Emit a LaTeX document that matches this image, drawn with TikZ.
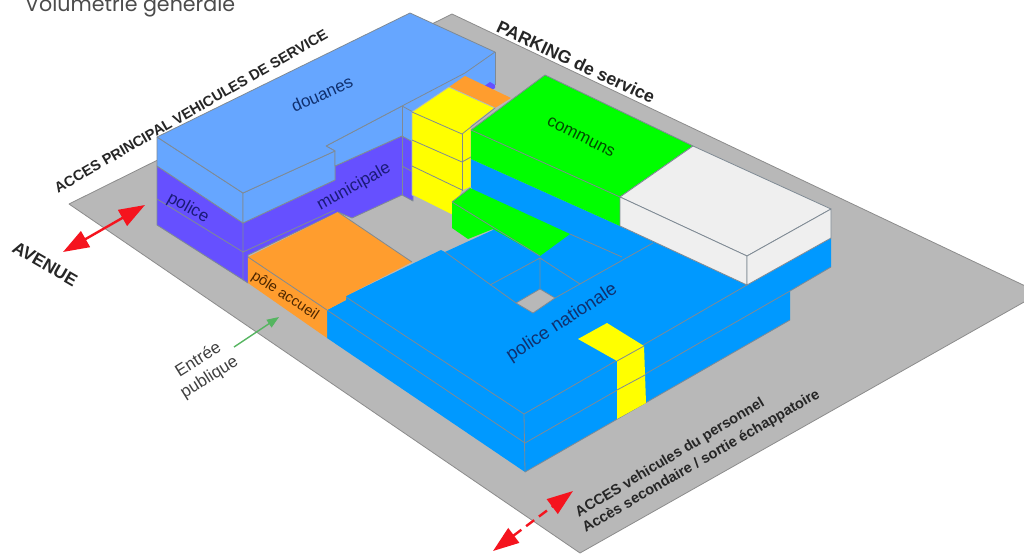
\documentclass[tikz,border=0pt]{standalone}
\usepackage[dvipsnames]{xcolor}
\usepackage{fontspec}
\setmainfont{Liberation Sans}
\newfontfamily\titlefont{Poppins}
\usetikzlibrary{arrows.meta,positioning}
\definecolor{sol}{HTML}{B8B8B8}
\definecolor{arete}{HTML}{7F8A94}
\definecolor{douane}{HTML}{66A6FF}
\definecolor{municipal}{HTML}{6650FF}
\definecolor{national}{HTML}{0099FF}
\definecolor{commun}{HTML}{00FF00}
\definecolor{jaune}{HTML}{FFFF00}
\definecolor{accueil}{HTML}{FF9D2E}
\definecolor{blanc}{HTML}{EFEFEF}
\definecolor{fleche}{HTML}{F5141E}
\definecolor{entree}{HTML}{55B560}
\definecolor{marine}{HTML}{10306E}
\definecolor{violet}{HTML}{1A1A78}
\tikzset{
  face/.style={draw=arete,line width=0.8pt,line join=round},
  pli/.style={arete,line width=0.8pt},
  acces/.style={fleche,line width=2.4pt,{Triangle[length=26pt,width=18pt]}-{Triangle[length=26pt,width=18pt]}},
  grand/.style={font=\bfseries\fontsize{14.6}{17}\selectfont,text=black!85},
  petit/.style={font=\bfseries\fontsize{14.6}{17}\selectfont,text=black!85,anchor=west},
  volume/.style={font=\fontsize{17}{20}\selectfont,inner sep=0pt},
}
\begin{document}
\begin{tikzpicture}[x=1pt,y=-1pt]
    \useasboundingbox (0,0) rectangle (1024,554);
    \fill[white] (0,0) rectangle (1024,554);
    \draw[face,draw=black!45,fill=sol] (69,204)--(452,14)--(1040,293)--(580,553)--cycle;
    % douanes et police municipale
    \fill[douane] (402,106)--(495,52)--(495,85)--(402,140)--cycle;
    \fill[municipal] (465,100)--(490,82)--(495,85)--(495,88)--(470,105)--cycle;
    \draw[face,fill=municipal] (157,166)--(243,223)--(335,180)--(335,166)--(402,136)--(413,142)--(413,201)--(402,195)--(352,218)--(338,212)--(248,255)--(248,283)--(157,225)--cycle;
    \draw[pli] (157,199)--(243,252)--(243,280);
    \draw[pli] (243,223)--(243,252)--(335,210);
    \draw[pli] (402,166)--(413,172);
    \draw[face,fill=douane] (157,137)--(243,193)--(243,223)--(157,166)--cycle;
    \draw[face,fill=douane] (243,193)--(335,151)--(335,180)--(243,223)--cycle;
    \draw[face,fill=douane] (326,146)--(402,106)--(413,112)--(413,142)--(402,136)--(335,166)--(335,151)--cycle;
    \draw[face,fill=douane] (157,137)--(410,13)--(495,52)--(465,73)--(402,106)--(326,146)--(335,151)--(243,193)--cycle;
    \draw[pli] (402,106)--(402,195);
    \draw[pli] (495,52)--(495,85);
    % escalier et parties jaunes
    \draw[face,fill=accueil,draw=none] (449,87)--(465,76)--(511,98)--(495,108)--cycle;
    \draw[face,draw=arete!60,fill=jaune] (412,112)--(449,87)--(495,108)--(471,126)--(471,187)--(462,191)--(452,215)--(412,195)--cycle;
    \draw[pli] (412,112)--(462,134)--(495,108);
    \draw[pli] (412,140)--(462,162)--(471,157);
    \draw[pli] (412,166)--(462,190);
    \draw[pli] (462,134)--(462,191);
    % police nationale
    \fill[national] (327,310)--(346,300)--(346,296)--(441,250)--(445,252)--(493,230)--(471,187)--(471,159)--(620,226)--(747,285)--(831,238)--(831,267)--(790,291)--(790,320)--(525,472)--(327,338)--cycle;
    \draw[pli] (346,297)--(524,414)--(747,285);
    \draw[pli] (327,310)--(525,443)--(790,291);
    \draw[pli] (524,414)--(525,472);
    \draw[pli] (525,472)--(790,320);
    \draw[pli] (831,267)--(790,291);
    \draw[pli] (445,252)--(516,303);
    \draw[pli] (490,285)--(540,258)--(540,289);
    \draw[pli] (540,258)--(580,284);
    \draw[pli] (555,298)--(653,243);
    \draw[pli] (570,234)--(622,257);
    \draw[face,fill=sol] (516,303)--(540,289)--(555,298)--(533,313)--cycle;
    % pole accueil
    \draw[face,draw=none,fill=accueil] (248,257)--(338,212)--(412,262)--(346,296)--(346,300)--(327,310)--(327,338)--(248,283)--cycle;
    \draw[pli] (248,257)--(327,310);
    \draw[pli] (338,212)--(412,262);
    % communs
    \draw[face,draw=none,fill=commun] (471,130)--(545,75)--(693,146)--(620,197)--(620,226)--(471,159)--cycle;
    \draw[pli] (471,130)--(620,197)--(693,146);
    \draw[pli] (471,130)--(545,75)--(693,146);
    \draw[face,draw=none,fill=commun] (452,202)--(470,188)--(570,234)--(540,256)--(493,229)--(468,239)--(452,228)--cycle;
    \draw[pli] (452,202)--(540,256);
    \draw[pli] (452,202)--(470,188);
    % partie blanche
    \draw[face,fill=blanc] (620,197)--(693,146)--(831,209)--(747,256)--cycle;
    \draw[face,fill=blanc] (620,197)--(747,256)--(747,285)--(620,226)--cycle;
    \draw[face,fill=blanc] (747,256)--(831,209)--(831,238)--(747,285)--cycle;
    % cage jaune
    \draw[face,draw=none,fill=jaune] (578,339)--(607,323)--(644,346)--(646,403)--(617,419)--(617,361)--cycle;
    \draw[pli] (617,361)--(644,346);
    \draw[pli] (617,390)--(645,375);
    % fleches
    \coordinate (avenueA) at (63,252);
    \coordinate (avenueB) at (145,205);
    \draw[acces] (avenueA)--(avenueB);
    \coordinate (secondA) at (493,551);
    \coordinate (secondB) at (573,491);
    \draw[acces,dashed,dash pattern=on 10pt off 6pt] (secondA)--(secondB);
    \coordinate (publicA) at (234,347);
    \coordinate (publicB) at (279,317);
    \draw[entree,line width=1.4pt,-{Triangle[length=12pt,width=9pt]}] (publicA)--(publicB);
    % textes
    \node[anchor=base west,inner sep=0pt,text=black!70,font=\titlefont\fontsize{20.6}{24}\selectfont] (titre) at (25,12) {Volumétrie générale};
    \node[grand] (principal) at (191,111) [rotate=30] {ACCES PRINCIPAL VEHICULES DE SERVICE};
    \node[grand,font=\bfseries\fontsize{17.5}{20}\selectfont] (avenue) at (45,264) [rotate=-30] {AVENUE};
    \node[grand,font=\bfseries\fontsize{17.7}{20}\selectfont] (parking) at (576,62) [rotate=-25] {PARKING de service};
    \node[volume,text=marine] (douanes) at (322,94) [rotate=24] {douanes};
    \node[volume,text=violet] (police) at (188,208) [rotate=-29] {police};
    \node[volume,text=violet] (municipale) at (354,187) [rotate=29] {municipale};
    \node[volume,text=green!30!black] (communs) at (581,137) [rotate=-27] {communs};
    \node[volume,text=orange!30!black,font=\fontsize{14.5}{17}\selectfont] (accueil) at (285,296) [rotate=-33] {pôle accueil};
    \node[volume,text=marine,font=\fontsize{18.4}{21}\selectfont] (nationale) at (562,323) [rotate=33] {police nationale};
    \node[inner sep=0pt,align=center,text=black!75,font=\fontsize{17}{21}\selectfont,rotate=32] (publique) at (204,369) {Entrée\\publique};
    \node[petit,rotate=31] (personnel) at (574,516) {ACCES vehicules du personnel};
    \node[petit,rotate=30] (secondaire) at (581,531) {Accès secondaire / sortie échappatoire};
\end{tikzpicture}
\end{document}
